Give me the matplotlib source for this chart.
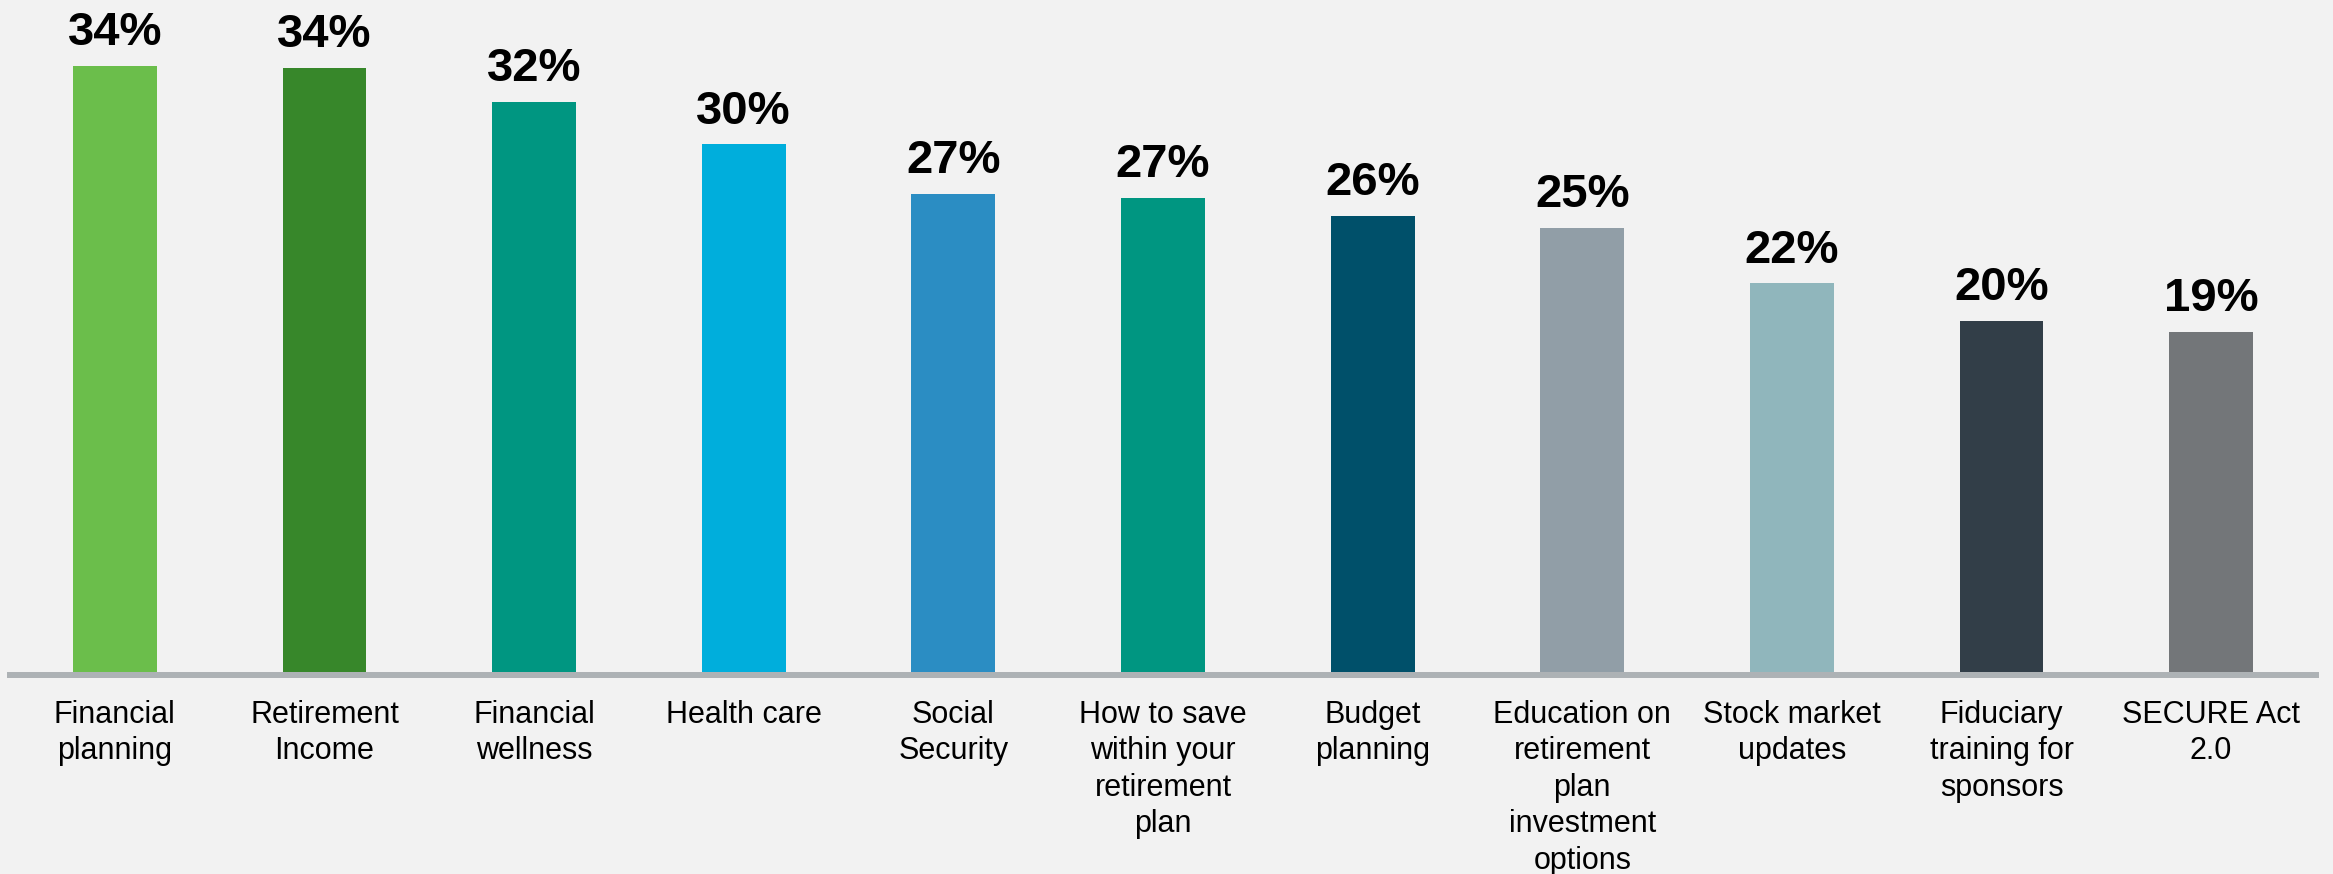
import matplotlib
matplotlib.use("Agg")
import matplotlib.pyplot as plt

# survey topics and share of respondents (%)
topics = [
    "Financial\nplanning",
    "Retirement\nIncome",
    "Financial\nwellness",
    "Health care",
    "Social\nSecurity",
    "How to save\nwithin your\nretirement\nplan",
    "Budget\nplanning",
    "Education on\nretirement\nplan\ninvestment\noptions",
    "Stock market\nupdates",
    "Fiduciary\ntraining for\nsponsors",
    "SECURE Act\n2.0",
]
shares = [34.0, 33.9, 32.0, 29.6, 26.8, 26.6, 25.6, 24.9, 21.8, 19.7, 19.1]
bar_colors = [
    "#6bbe4b", "#37872a", "#009681", "#00aedc", "#2b8dc3", "#009681",
    "#00506a", "#919ea7", "#90b6bc", "#323e48", "#737679",
]

plt.rcParams["font.family"] = ["Liberation Sans", "DejaVu Sans"]

W, H, DPI = 2333, 874, 100
fig = plt.figure(figsize=(W / DPI, H / DPI), dpi=DPI, facecolor="#f2f2f2")
ax = fig.add_axes([10 / W, 202 / H, 2306 / W, 672 / H])
ax.set_facecolor("#f2f2f2")

x = range(len(topics))
bars = ax.bar(x, shares, width=0.4, color=bar_colors, zorder=3)

for rect, v in zip(bars, shares):
    ax.annotate(f"{int(v + 0.5)}%",
                xy=(rect.get_x() + rect.get_width() / 2, rect.get_height()),
                xytext=(0, 15), textcoords="offset points",
                ha="center", va="baseline",
                fontsize=34, fontweight="bold", color="black")

ax.set_xlim(-0.5, len(topics) - 0.5)
ax.set_ylim(0, 37.7)

for side in ("top", "right", "left"):
    ax.spines[side].set_visible(False)
ax.spines["bottom"].set_color("#adb2b5")
ax.spines["bottom"].set_linewidth(4.3)
ax.spines["bottom"].set_position(("outward", 2.2))

ax.set_yticks([])
ax.set_xticks(list(x))
ax.set_xticklabels(topics, fontsize=22, linespacing=1.28, color="black")
ax.tick_params(axis="x", length=0, pad=18)

fig.savefig("out.png", dpi=DPI, facecolor=fig.get_facecolor())
